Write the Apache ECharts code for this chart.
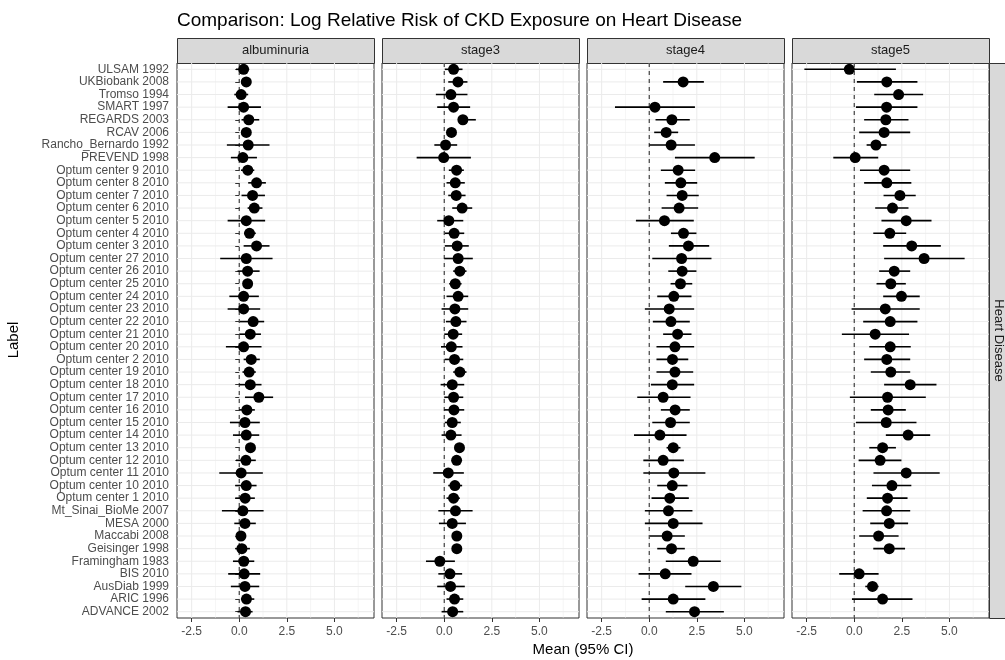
<!DOCTYPE html>
<html lang="en">

<head>
    <meta charset="UTF-8">
    <title>Log Relative Risk of CKD Exposure on Heart Disease</title>
    <style>
        html, body { margin: 0; padding: 0; background: #fff; }
        #chart { width: 1005px; height: 660px; }
    </style>
</head>

<body>
    <div id="chart"></div>
</body>
<script src="https://cdn.jsdelivr.net/npm/echarts@6/dist/echarts.min.js"></script>
<script>
    // study labels, top to bottom
    const labels = ['ULSAM 1992', 'UKBiobank 2008', 'Tromso 1994', 'SMART 1997', 'REGARDS 2003', 'RCAV 2006',
        'Rancho_Bernardo 1992', 'PREVEND 1998', 'Optum center 9 2010', 'Optum center 8 2010', 'Optum center 7 2010',
        'Optum center 6 2010', 'Optum center 5 2010', 'Optum center 4 2010', 'Optum center 3 2010',
        'Optum center 27 2010', 'Optum center 26 2010', 'Optum center 25 2010', 'Optum center 24 2010',
        'Optum center 23 2010', 'Optum center 22 2010', 'Optum center 21 2010', 'Optum center 20 2010',
        'Optum center 2 2010', 'Optum center 19 2010', 'Optum center 18 2010', 'Optum center 17 2010',
        'Optum center 16 2010', 'Optum center 15 2010', 'Optum center 14 2010', 'Optum center 13 2010',
        'Optum center 12 2010', 'Optum center 11 2010', 'Optum center 10 2010', 'Optum center 1 2010',
        'Mt_Sinai_BioMe 2007', 'MESA 2000', 'Maccabi 2008', 'Geisinger 1998', 'Framingham 1983', 'BIS 2010',
        'AusDiab 1999', 'ARIC 1996', 'ADVANCE 2002'];

    const facetNames = ['albuminuria', 'stage3', 'stage4', 'stage5'];
    const xTicks = [-2.5, 0, 2.5, 5];
    const xMinor = [-1.25, 1.25, 3.75, 6.25];

    const albMean = [0.23, 0.37, 0.10, 0.23, 0.50, 0.37, 0.47, 0.19, 0.45, 0.91, 0.70, 0.79, 0.37, 0.54, 0.91, 0.37, 0.44, 0.44, 0.23, 0.23, 0.73, 0.58, 0.23, 0.63, 0.52, 0.58, 1.03, 0.40, 0.30, 0.37, 0.59, 0.35, 0.10, 0.37, 0.31, 0.19, 0.30, 0.09, 0.14, 0.24, 0.26, 0.30, 0.38, 0.33];
    const albLo = [-0.17, 0.20, -0.26, -0.61, 0.12, 0.20, -0.65, -0.44, 0.09, 0.47, 0.12, 0.44, -0.61, 0.26, 0.23, -1.00, -0.09, 0.25, -0.52, -0.61, 0.03, 0.00, -0.70, 0.23, 0.17, 0.00, 0.30, 0.00, -0.49, -0.33, 0.40, -0.17, -1.05, -0.21, -0.21, -0.91, -0.26, -0.05, -0.21, -0.33, -0.58, -0.44, 0.09, -0.09];
    const albHi = [0.52, 0.50, 0.47, 1.14, 1.05, 0.55, 1.59, 0.93, 0.79, 1.40, 1.35, 1.22, 1.36, 0.87, 1.59, 1.75, 1.07, 0.60, 1.03, 1.10, 1.31, 1.14, 1.17, 1.08, 0.87, 1.17, 1.78, 0.82, 1.08, 1.05, 0.80, 0.87, 1.24, 0.91, 0.82, 1.28, 0.87, 0.25, 0.56, 0.79, 1.10, 1.05, 0.79, 0.70];

    const s3Mean = [0.49, 0.72, 0.35, 0.49, 0.98, 0.38, 0.07, -0.03, 0.65, 0.58, 0.63, 0.94, 0.24, 0.52, 0.68, 0.73, 0.82, 0.58, 0.73, 0.56, 0.61, 0.47, 0.37, 0.54, 0.82, 0.42, 0.49, 0.51, 0.42, 0.35, 0.80, 0.65, 0.21, 0.56, 0.49, 0.59, 0.42, 0.66, 0.66, -0.23, 0.30, 0.33, 0.54, 0.44];
    const s3Lo = [0.03, 0.21, -0.44, -0.37, 0.79, 0.20, -0.52, -1.45, 0.24, 0.12, 0.21, 0.42, -0.37, 0.03, 0.03, 0.00, 0.47, 0.26, 0.12, -0.14, 0.09, 0.00, -0.17, 0.03, 0.47, -0.19, 0.00, 0.00, 0.03, -0.14, 0.60, 0.45, -0.58, 0.21, 0.12, -0.31, -0.28, 0.50, 0.50, -0.96, -0.31, -0.37, 0.12, -0.14];
    const s3Hi = [0.96, 1.22, 1.22, 1.36, 1.66, 0.55, 0.68, 1.40, 1.03, 1.08, 1.12, 1.47, 1.00, 1.05, 1.29, 1.50, 1.17, 0.91, 1.26, 1.26, 1.17, 0.94, 0.96, 1.00, 1.17, 1.05, 1.00, 1.05, 0.87, 0.91, 1.00, 0.85, 1.03, 0.94, 0.82, 1.49, 1.14, 0.82, 0.82, 0.56, 0.94, 1.08, 1.00, 1.00];

    const s4Mean = [null, 1.78, null, 0.30, 1.19, 0.89, 1.15, 3.44, 1.52, 1.66, 1.73, 1.57, 0.80, 1.80, 2.06, 1.70, 1.73, 1.64, 1.29, 1.05, 1.14, 1.49, 1.35, 1.22, 1.35, 1.21, 0.73, 1.36, 1.12, 0.56, 1.26, 0.73, 1.29, 1.21, 1.08, 1.01, 1.26, 0.94, 1.17, 2.31, 0.84, 3.37, 1.26, 2.38];
    const s4Lo = [null, 0.73, null, -1.80, 0.33, 0.26, 0.00, 1.35, 0.61, 0.82, 0.91, 0.65, -0.70, 1.14, 1.03, 0.16, 1.00, 1.12, 0.42, -0.23, 0.19, 0.73, 0.38, 0.38, 0.38, 0.09, -0.63, 0.61, 0.16, -0.80, 0.91, -0.31, -0.31, 0.42, 0.12, -0.23, -0.23, 0.03, 0.42, 0.87, -0.56, 1.89, -0.40, 0.87];
    const s4Hi = [null, 2.87, null, 2.40, 2.13, 1.52, 2.40, 5.54, 2.41, 2.52, 2.60, 2.57, 2.34, 2.48, 3.15, 3.27, 2.48, 2.26, 2.22, 2.36, 2.13, 2.22, 2.36, 2.05, 2.31, 2.36, 2.17, 2.13, 2.13, 1.96, 1.64, 1.82, 2.95, 2.01, 2.08, 2.27, 2.80, 1.87, 1.87, 3.76, 2.22, 4.84, 2.95, 3.92];

    const s5Mean = [-0.26, 1.71, 2.33, 1.70, 1.66, 1.57, 1.14, 0.05, 1.57, 1.71, 2.40, 2.01, 2.73, 1.87, 3.02, 3.67, 2.10, 1.92, 2.48, 1.63, 1.89, 1.10, 1.89, 1.71, 1.92, 2.94, 1.75, 1.78, 1.68, 2.83, 1.49, 1.36, 2.73, 1.98, 1.75, 1.70, 1.84, 1.28, 1.84, null, 0.26, 0.96, 1.49, null];
    const s5Lo = [-2.62, 0.14, 1.05, 0.09, 0.52, 0.26, 0.65, -1.10, 0.30, 0.52, 1.54, 1.10, 1.43, 1.00, 1.52, 1.57, 1.31, 1.17, 1.52, -0.14, 0.47, -0.65, 0.79, 0.52, 0.87, 1.57, -0.23, 0.87, 0.09, 1.66, 0.79, 0.23, 1.01, 0.93, 0.66, 0.44, 0.84, 0.26, 1.00, null, -0.79, 0.58, -0.12, null];
    const s5Hi = [2.19, 3.32, 3.62, 3.32, 2.85, 2.94, 1.70, 1.26, 2.94, 3.00, 3.23, 2.85, 4.06, 2.73, 4.55, 5.80, 2.94, 2.71, 3.44, 3.44, 3.32, 2.88, 2.97, 2.94, 2.94, 4.32, 3.76, 2.71, 3.27, 3.99, 2.19, 2.48, 4.49, 3.00, 2.80, 2.94, 2.83, 2.33, 2.67, null, 1.28, 1.28, 3.06, null];

    const facetData = [
        [albMean, albLo, albHi],
        [s3Mean, s3Lo, s3Hi],
        [s4Mean, s4Lo, s4Hi],
        [s5Mean, s5Lo, s5Hi]
    ];

    // layout (ggplot facet panels)
    const panelLeft = [177, 382, 587, 792];
    const panelW = 197, panelTop = 63, panelH = 555;
    const stripTop = 38, stripH = 25;
    const font = '"Liberation Sans", Arial, Helvetica, sans-serif';

    var chart = echarts.init(document.getElementById('chart'));

    let grids = [], xAxes = [], yAxes = [], series = [], graphics = [];

    // vertical line across the whole panel at x = value(0)
    let vlineRender = (params, api) => {
        let cs = params.coordSys;
        let p = api.coord([api.value(0), 0]);
        return {
            type: 'line',
            shape: { x1: p[0], y1: cs.y, x2: p[0], y2: cs.y + cs.height },
            style: { stroke: api.value(2) ? '#333' : '#ebebeb', lineWidth: api.value(1), lineDash: api.value(2) ? [4, 4] : null }
        };
    };
    // horizontal line across the panel at category value(1)
    let hlineRender = (params, api) => {
        let cs = params.coordSys;
        let p = api.coord([0, api.value(1)]);
        return {
            type: 'line',
            shape: { x1: cs.x, y1: p[1], x2: cs.x + cs.width, y2: p[1] },
            style: { stroke: '#ebebeb', lineWidth: 1 }
        };
    };
    let errRender = (params, api) => {
        let a = api.coord([api.value(0), api.value(2)]);
        let b = api.coord([api.value(1), api.value(2)]);
        return {
            type: 'line',
            shape: { x1: a[0], y1: a[1], x2: b[0], y2: b[1] },
            style: { stroke: '#000', lineWidth: 1.6 }
        };
    };

    facetNames.forEach((name, i) => {
        grids.push({
            left: panelLeft[i], top: panelTop, width: panelW, height: panelH,
            show: true, borderColor: '#333', borderWidth: 1, backgroundColor: '#fff'
        });
        xAxes.push({
            type: 'value', gridIndex: i, min: -3.27, max: 7.08,
            axisLine: { show: false },
            axisTick: { show: true, length: 4, customValues: xTicks, lineStyle: { color: '#333' } },
            axisLabel: {
                show: true, customValues: xTicks, margin: 8, color: '#4d4d4d', fontSize: 12, fontFamily: font,
                formatter: v => v.toFixed(1)
            },
            splitLine: { show: false }
        });
        yAxes.push({
            type: 'category', gridIndex: i, data: labels, inverse: true,
            axisLine: { show: false },
            axisTick: { show: i === 0, length: 4, alignWithLabel: true, interval: 0, lineStyle: { color: '#333' } },
            axisLabel: { show: i === 0, interval: 0, margin: 8, color: '#4d4d4d', fontSize: 12, fontFamily: font },
            splitLine: { show: false }
        });

        // background grid lines
        let vData = xTicks.map(v => [v, 1, 0]).concat(xMinor.map(v => [v, 0.5, 0]));
        series.push({
            type: 'custom', xAxisIndex: i, yAxisIndex: i, renderItem: vlineRender,
            encode: { x: 0 }, data: vData, z: 0, silent: true
        });
        series.push({
            type: 'custom', xAxisIndex: i, yAxisIndex: i, renderItem: hlineRender,
            encode: { y: 1 }, data: labels.map((l, k) => [0, k]), z: 0, silent: true
        });
        // dashed reference line at 0
        series.push({
            type: 'custom', xAxisIndex: i, yAxisIndex: i, renderItem: vlineRender,
            encode: { x: 0 }, data: [[0, 1.1, 1]], z: 1, silent: true
        });

        let [mean, lo, hi] = facetData[i];
        let bars = [], pts = [];
        labels.forEach((l, k) => {
            if (mean[k] === null) return;
            bars.push([lo[k], hi[k], k]);
            pts.push([mean[k], k]);
        });
        series.push({
            type: 'custom', xAxisIndex: i, yAxisIndex: i, renderItem: errRender,
            encode: { x: [0, 1], y: 2 }, data: bars, z: 3, silent: true
        });
        series.push({
            type: 'scatter', xAxisIndex: i, yAxisIndex: i, data: pts, z: 4,
            symbolSize: 11, itemStyle: { color: '#000', opacity: 1 }, silent: true
        });

        // facet strip
        graphics.push({
            type: 'rect', left: panelLeft[i], top: stripTop,
            shape: { width: panelW, height: stripH },
            style: { fill: '#d9d9d9', stroke: '#333', lineWidth: 1 }
        });
        graphics.push({
            type: 'text', x: panelLeft[i] + panelW / 2, y: stripTop + stripH / 2,
            style: { text: name, fill: '#1a1a1a', font: '13px ' + font, textAlign: 'center', textVerticalAlign: 'middle' }
        });
    });

    // right strip
    graphics.push({
        type: 'rect', left: 989, top: panelTop,
        shape: { width: 24, height: panelH },
        style: { fill: '#d9d9d9', stroke: '#333', lineWidth: 1 }
    });
    graphics.push({
        type: 'text', x: 999, y: panelTop + panelH / 2, rotation: -Math.PI / 2,
        style: { text: 'Heart Disease', fill: '#1a1a1a', font: '13px ' + font, textAlign: 'center', textVerticalAlign: 'middle' }
    });
    // axis titles
    graphics.push({
        type: 'text', x: 583, y: 650,
        style: { text: 'Mean (95% CI)', fill: '#000', font: '15px ' + font, textAlign: 'center', textVerticalAlign: 'middle' }
    });
    graphics.push({
        type: 'text', x: 14, y: 340, rotation: Math.PI / 2,
        style: { text: 'Label', fill: '#000', font: '15px ' + font, textAlign: 'center', textVerticalAlign: 'middle' }
    });

    chart.setOption({
        animation: false,
        backgroundColor: '#fff',
        title: {
            text: 'Comparison: Log Relative Risk of CKD Exposure on Heart Disease',
            left: 172, top: 6,
            textStyle: { fontSize: 19, fontWeight: 'normal', color: '#000', fontFamily: font }
        },
        grid: grids,
        xAxis: xAxes,
        yAxis: yAxes,
        series: series,
        graphic: graphics
    });
</script>

</html>
